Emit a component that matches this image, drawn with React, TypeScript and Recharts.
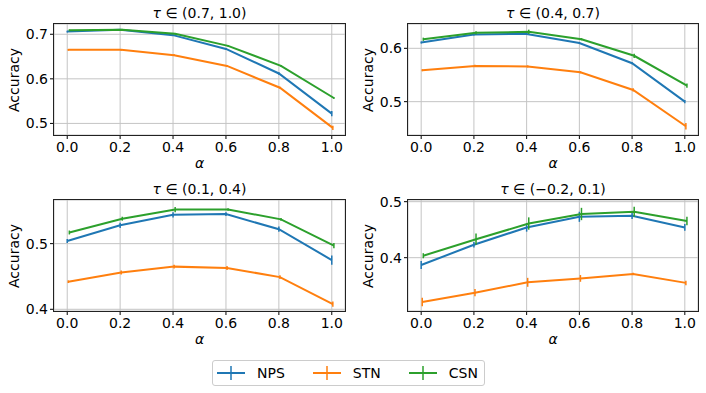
import React from 'react';
import { LineChart, Line, XAxis, YAxis, CartesianGrid, ErrorBar } from 'recharts';

// alpha values on the x axis
const alphas = [0, 0.2, 0.4, 0.6, 0.8, 1.0];
const alphaTicks = [0, 0.2, 0.4, 0.6, 0.8, 1.0];

// small horizontal shifts of each method's points (as plotted)
const npsShift = 0;
const stnShift = 0.004;
const csnShift = 0.008;

// tau in (0.7, 1.0)
const npsHigh = [0.706, 0.710, 0.698, 0.667, 0.612, 0.522];
const npsHighErr = [0.002, 0.002, 0.002, 0.002, 0.003, 0.006];
const stnHigh = [0.665, 0.665, 0.653, 0.629, 0.580, 0.490];
const stnHighErr = [0.002, 0.002, 0.002, 0.002, 0.002, 0.005];
const csnHigh = [0.709, 0.710, 0.701, 0.674, 0.629, 0.557];
const csnHighErr = [0.002, 0.002, 0.002, 0.002, 0.002, 0.002];

// tau in (0.4, 0.7)
const npsMid = [0.611, 0.626, 0.627, 0.610, 0.572, 0.500];
const npsMidErr = [0.002, 0.002, 0.002, 0.002, 0.002, 0.003];
const stnMid = [0.559, 0.567, 0.566, 0.555, 0.522, 0.454];
const stnMidErr = [0.002, 0.002, 0.002, 0.002, 0.003, 0.006];
const csnMid = [0.617, 0.629, 0.631, 0.617, 0.586, 0.530];
const csnMidErr = [0.003, 0.003, 0.004, 0.002, 0.004, 0.004];

// tau in (0.1, 0.4)
const npsLow = [0.504, 0.528, 0.544, 0.545, 0.522, 0.475];
const npsLowErr = [0.003, 0.004, 0.004, 0.003, 0.004, 0.007];
const stnLow = [0.442, 0.456, 0.465, 0.463, 0.449, 0.408];
const stnLowErr = [0.002, 0.003, 0.003, 0.003, 0.003, 0.004];
const csnLow = [0.517, 0.538, 0.552, 0.552, 0.537, 0.497];
const csnLowErr = [0.003, 0.003, 0.004, 0.002, 0.002, 0.004];

// tau in (-0.2, 0.1)
const npsNeg = [0.387, 0.423, 0.454, 0.473, 0.475, 0.454];
const npsNegErr = [0.007, 0.005, 0.0075, 0.009, 0.006, 0.006];
const stnNeg = [0.321, 0.3375, 0.356, 0.363, 0.371, 0.355];
const stnNegErr = [0.0075, 0.0065, 0.008, 0.006, 0.002, 0.004];
const csnNeg = [0.4035, 0.433, 0.461, 0.478, 0.482, 0.4655];
const csnNegErr = [0.0045, 0.010, 0.011, 0.011, 0.009, 0.0075];

const methods = ['NPS', 'STN', 'CSN'];
const colors = ['#1f77b4', '#ff7f0e', '#2ca02c'];

const Y_AXIS_W = 40;
const X_AXIS_H = 30;
const PAD = 6;

const toRows = (ys: number[], errs: number[], shift: number) =>
  alphas.map((a, i) => ({ x: a + shift, y: ys[i], err: errs[i] }));

interface PanelProps {
  left: number;
  top: number;
  width: number;
  height: number;
  title: string;
  yDomain: [number, number];
  yTicks: number[];
  series: { ys: number[]; errs: number[]; shift: number }[];
}

const Panel: React.FC<PanelProps> = ({ left, top, width, height, title, yDomain, yTicks, series }) => {
  return (
    <>
      <div style={{ position: 'absolute', left: left - Y_AXIS_W, top: top - PAD }}>
        <LineChart
          width={Y_AXIS_W + width + PAD}
          height={PAD + height + X_AXIS_H}
          margin={{ top: PAD, right: PAD, bottom: 0, left: 0 }}
        >
          <CartesianGrid stroke="#c4c4c4" strokeWidth={1} />
          <XAxis
            dataKey="x"
            type="number"
            domain={[-0.05, 1.05]}
            ticks={alphaTicks}
            allowDataOverflow
            tickFormatter={(v: number) => v.toFixed(1)}
            height={X_AXIS_H}
            tick={{ fill: '#000', fontSize: 14 }}
            tickLine={{ stroke: '#000' }}
            axisLine={false}
            tickSize={4}
            tickMargin={3}
          />
          <YAxis
            type="number"
            domain={yDomain}
            ticks={yTicks}
            allowDataOverflow
            tickFormatter={(v: number) => v.toFixed(1)}
            width={Y_AXIS_W}
            tick={{ fill: '#000', fontSize: 14 }}
            tickLine={{ stroke: '#000' }}
            axisLine={false}
            tickSize={4}
            tickMargin={2}
          />
          {series.map((s, i) => (
            <Line
              key={methods[i]}
              data={toRows(s.ys, s.errs, s.shift)}
              dataKey="y"
              stroke={colors[i]}
              strokeWidth={2}
              dot={false}
              isAnimationActive={false}
            >
              <ErrorBar dataKey="err" width={0} stroke={colors[i]} strokeWidth={1.5} direction="y" isAnimationActive={false} />
            </Line>
          ))}
        </LineChart>
      </div>
      <div
        style={{
          position: 'absolute',
          left: left - 1,
          top: top - 1,
          width: width,
          height: height,
          border: '1px solid #222',
          pointerEvents: 'none',
        }}
      />
      <div
        style={{
          position: 'absolute',
          left,
          width,
          top: top - 19,
          textAlign: 'center',
          fontSize: 14,
          lineHeight: '16px',
          whiteSpace: 'nowrap',
        }}
      >
        <i>τ</i> ∈ {title}
      </div>
      <div
        style={{
          position: 'absolute',
          left,
          width,
          top: top + height + 20,
          textAlign: 'center',
          fontSize: 14,
          lineHeight: '16px',
          fontStyle: 'italic',
        }}
      >
        α
      </div>
      <div
        style={{
          position: 'absolute',
          left: left - 40 - 50,
          width: 100,
          top: top + height / 2 - 8,
          textAlign: 'center',
          fontSize: 14,
          lineHeight: '16px',
          transform: 'rotate(-90deg)',
        }}
      >
        Accuracy
      </div>
    </>
  );
};

const LegendIcon: React.FC<{ color: string }> = ({ color }) => (
  <svg width={28} height={14} style={{ display: 'block' }}>
    <line x1={0} y1={7} x2={28} y2={7} stroke={color} strokeWidth={2} />
    <line x1={14} y1={0} x2={14} y2={14} stroke={color} strokeWidth={1.5} />
  </svg>
);

export default function App() {
  return (
    <div
      style={{
        position: 'fixed',
        left: 0,
        top: 0,
        width: 706,
        height: 393,
        background: '#fff',
        fontFamily: '"DejaVu Sans", sans-serif',
        color: '#000',
      }}
    >
      <Panel
        left={54}
        top={24}
        width={291}
        height={111}
        title="(0.7, 1.0)"
        yDomain={[0.474, 0.723]}
        yTicks={[0.5, 0.6, 0.7]}
        series={[
          { ys: npsHigh, errs: npsHighErr, shift: npsShift },
          { ys: stnHigh, errs: stnHighErr, shift: stnShift },
          { ys: csnHigh, errs: csnHighErr, shift: csnShift },
        ]}
      />
      <Panel
        left={408}
        top={24}
        width={290}
        height={111}
        title="(0.4, 0.7)"
        yDomain={[0.4375, 0.6456]}
        yTicks={[0.5, 0.6]}
        series={[
          { ys: npsMid, errs: npsMidErr, shift: npsShift },
          { ys: stnMid, errs: stnMidErr, shift: stnShift },
          { ys: csnMid, errs: csnMidErr, shift: csnShift },
        ]}
      />
      <Panel
        left={54}
        top={200}
        width={291}
        height={111}
        title="(0.1, 0.4)"
        yDomain={[0.3974, 0.5665]}
        yTicks={[0.4, 0.5]}
        series={[
          { ys: npsLow, errs: npsLowErr, shift: npsShift },
          { ys: stnLow, errs: stnLowErr, shift: stnShift },
          { ys: csnLow, errs: csnLowErr, shift: csnShift },
        ]}
      />
      <Panel
        left={408}
        top={200}
        width={290}
        height={111}
        title="(−0.2, 0.1)"
        yDomain={[0.3048, 0.503]}
        yTicks={[0.4, 0.5]}
        series={[
          { ys: npsNeg, errs: npsNegErr, shift: npsShift },
          { ys: stnNeg, errs: stnNegErr, shift: stnShift },
          { ys: csnNeg, errs: csnNegErr, shift: csnShift },
        ]}
      />
      <div
        style={{
          position: 'absolute',
          left: 212,
          top: 360,
          width: 271,
          height: 24,
          border: '1px solid #cccccc',
          borderRadius: 3,
          display: 'flex',
          alignItems: 'center',
          fontSize: 14,
        }}
      >
        {methods.map((m, i) => (
          <div key={m} style={{ display: 'flex', alignItems: 'center', marginLeft: i === 0 ? 4 : 28 }}>
            <LegendIcon color={colors[i]} />
            <span style={{ marginLeft: 12 }}>{m}</span>
          </div>
        ))}
      </div>
    </div>
  );
}
